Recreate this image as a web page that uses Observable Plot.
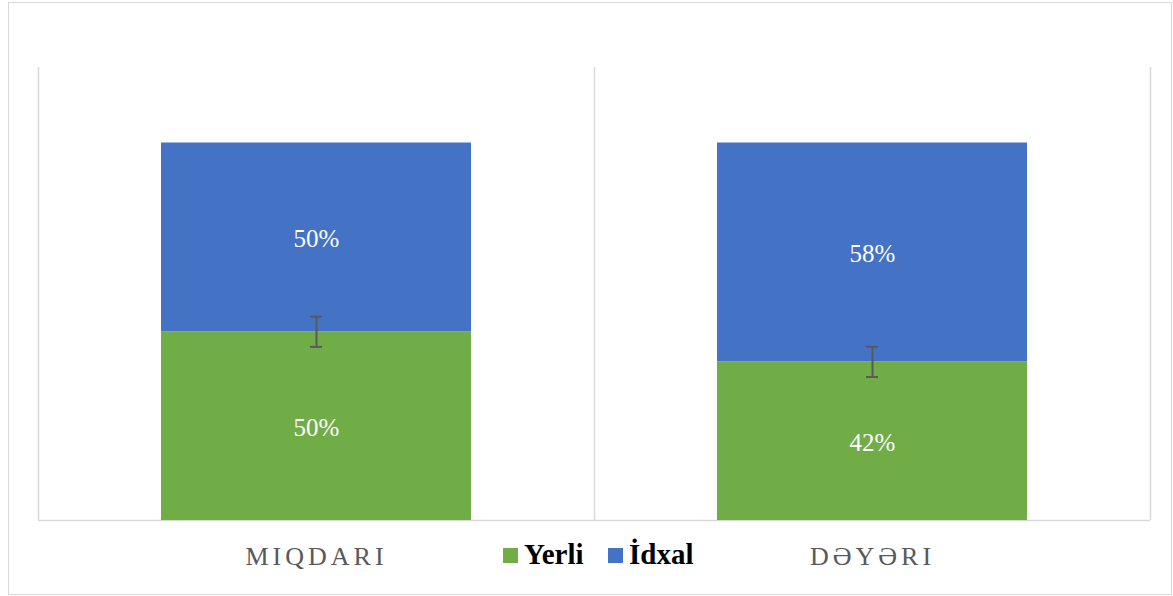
<!DOCTYPE html>
<html>
<head>
<meta charset="utf-8">
<script src="https://cdn.jsdelivr.net/npm/d3@7"></script>
<script src="https://cdn.jsdelivr.net/npm/@observablehq/plot@0.6"></script>
<style>
  html, body { margin: 0; padding: 0; background: #fff; }
  #wrap { position: relative; width: 1173px; height: 596px; overflow: hidden; }
  #border { position: absolute; left: 8px; top: 2px; width: 1162px; height: 591px; border: 1.5px solid #d9d9d9; pointer-events: none; }
  svg { position: absolute; left: 0; top: 0; }
</style>
</head>
<body>
<div id="wrap"><div id="border"></div></div>
<script>
const categories = ["MIQDARI", "DƏYƏRI"];
const series = ["Yerli", "İdxal"];
const yerli = [0.50, 0.42];
const idxal = [0.50, 0.58];
const errors = [0.04, 0.04];
const labelsYerli = ["50%", "42%"];
const labelsIdxal = ["50%", "58%"];
const colors = ["#70AD47", "#4472C4"];

const W = 1173, H = 596;
const halfBar = 155 / 556;
const capHalf = 6 / 556;

const rows = [];
categories.forEach((c, i) => {
  rows.push({cat: c, i, series: "Yerli", y1: 0, y2: yerli[i], label: labelsYerli[i]});
  rows.push({cat: c, i, series: "İdxal", y1: yerli[i], y2: yerli[i] + idxal[i], label: labelsIdxal[i]});
});
const errRows = categories.map((c, i) => ({i, lo: yerli[i] - errors[i], hi: yerli[i] + errors[i]}));
const gridX = d3.range(0, categories.length + 1);
const font = "'Liberation Serif', 'Times New Roman', serif";

const chart = Plot.plot({
  width: W, height: H,
  marginLeft: 38, marginRight: 23, marginTop: 67, marginBottom: 76,
  style: {fontFamily: font, background: "transparent"},
  x: {type: "linear", domain: [0, categories.length], axis: null},
  y: {domain: [0, 1.2], axis: null},
  color: {domain: series, range: colors},
  marks: [
    Plot.ruleX(gridX, {x: d => d, y1: 0, y2: 1.2, stroke: "#d9d9d9", strokeWidth: 1.5}),
    Plot.ruleY([0], {stroke: "#d9d9d9", strokeWidth: 1.5}),
    Plot.rectY(rows, {x1: d => d.i + 0.5 - halfBar, x2: d => d.i + 0.5 + halfBar, y1: "y1", y2: "y2", fill: "series"}),
    Plot.text(rows, {x: d => d.i + 0.5, y: d => (d.y1 + d.y2) / 2, text: "label", fill: "white", fontSize: 25, dy: 2}),
    Plot.ruleX(errRows, {x: d => d.i + 0.5, y1: "lo", y2: "hi", stroke: "#595959", strokeWidth: 2}),
    Plot.ruleY(errRows, {y: "lo", x1: d => d.i + 0.5 - capHalf, x2: d => d.i + 0.5 + capHalf, stroke: "#595959", strokeWidth: 2}),
    Plot.ruleY(errRows, {y: "hi", x1: d => d.i + 0.5 - capHalf, x2: d => d.i + 0.5 + capHalf, stroke: "#595959", strokeWidth: 2}),
    Plot.text(categories, {x: (d, i) => i + 0.5, y: 0, text: d => d, dy: 36, fill: "#595959", fontSize: 26, lineAnchor: "middle"})
  ]
});

const svg = d3.select(chart);
svg.selectAll("text").style("font-family", font);
svg.selectAll("text").filter(function() { return categories.includes(this.textContent); })
  .style("letter-spacing", "4px");

const legend = svg.append("g");
const legendX = [503, 608];
series.forEach((s, k) => {
  legend.append("rect").attr("x", legendX[k]).attr("y", 548).attr("width", 15).attr("height", 15).attr("fill", colors[k]);
  legend.append("text").attr("x", legendX[k] + 21).attr("y", 564).attr("fill", "#000")
    .attr("text-anchor", "start")
    .style("font-family", font).style("font-weight", "bold").style("font-size", "29px")
    .text(s);
});

document.getElementById("wrap").appendChild(chart);
</script>
</body>
</html>
